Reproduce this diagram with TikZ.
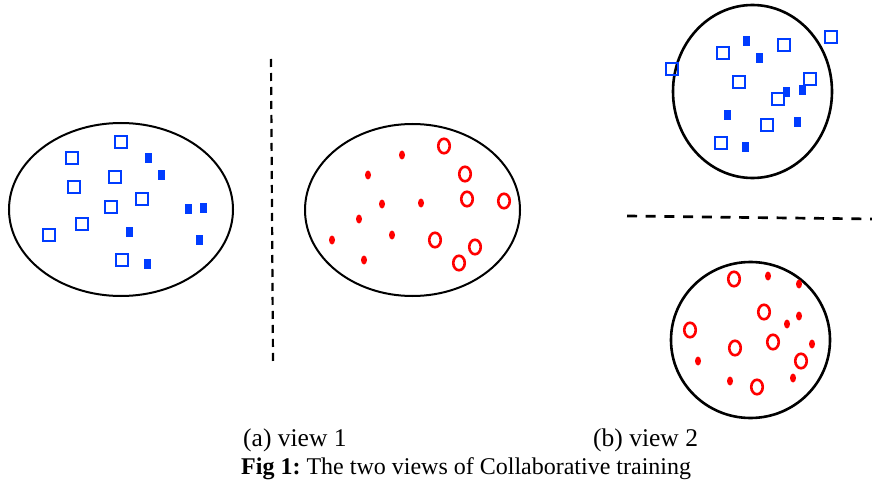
\documentclass[tikz,border=0pt]{standalone}
\usepackage{fontspec}
\setmainfont{Liberation Serif}
\frenchspacing
\usetikzlibrary{shapes.geometric}
\definecolor{myblue}{RGB}{0,60,255}
\definecolor{myred}{RGB}{255,0,0}
\tikzset{
  sq/.style={rectangle,draw=myblue,line width=2.7pt,minimum size=12pt,inner sep=0pt},
  bl/.style={rectangle,fill=myblue,minimum width=7pt,minimum height=10pt,inner sep=0pt},
  ring/.style={ellipse,draw=myred,line width=2.6pt,minimum width=11.5pt,minimum height=14.5pt,inner sep=0pt},
  dot/.style={ellipse,fill=myred,minimum width=6pt,minimum height=9pt,inner sep=0pt},
  hull/.style={draw=black,line width=2pt},
  sep/.style={draw=black,line width=2.2pt,dash pattern=on 8pt off 6pt},
  lab/.style={anchor=base west,inner sep=0pt,font=\fontsize{25.5}{28}\selectfont},
  caplab/.style={anchor=base west,inner sep=0pt,font=\fontsize{24}{28}\selectfont}
}
\begin{document}
\begin{tikzpicture}[x=1pt,y=-1pt]
\useasboundingbox (0,0) rectangle (872,481);
% hulls
\coordinate (e1) at (121,209.5);
\coordinate (e2) at (412.5,210);
\coordinate (e3) at (752.5,91.5);
\coordinate (e4) at (750.5,340);
\draw[hull] (e1) ellipse [x radius=112, y radius=86.5];
\draw[hull] (e2) ellipse [x radius=107.5, y radius=86];
\draw[hull,line width=2.6pt] (e3) ellipse [x radius=79.5, y radius=86.5];
\draw[hull,line width=2.6pt] (e4) ellipse [x radius=79.5, y radius=78];
% separators
\coordinate (v1) at (271,59);
\coordinate (v2) at (273,361);
\draw[sep] (v1) -- (v2);
\coordinate (h1) at (627,216);
\coordinate (h2) at (872,219);
\draw[sep,line width=2.7pt,dash pattern=on 10pt off 8.7pt] (h1) -- (h2);
% view 1, blue
\foreach \p [count=\i] in {(121,142),(72,158),(74,187),(115,177),(142,199),(111,207),(82,224),(49,235),(122,260)}
  \node[sq] (a\i) at \p {};
\foreach \p [count=\i] in {(148,158),(161,175),(188,209),(203,208),(129,232),(199,240),(147,264)}
  \node[bl] (b\i) at \p {};
% view 1, red
\foreach \p [count=\i] in {(444,146),(465,174),(467,199),(504,201),(435,240),(475,247),(459,263)}
  \node[ring] (c\i) at \p {};
\foreach \p [count=\i] in {(402,155),(368,175),(382,204),(421,203),(359,219),(392,235),(332,240),(364,260)}
  \node[dot] (d\i) at \p {};
% view 2, blue
\foreach \p [count=\i] in {(831,37),(672,69),(723,53),(784,45),(739,82),(810,79),(778,99),(767,125),(721,143)}
  \node[sq] (e\i) at \p {};
\foreach \p [count=\i] in {(746,41),(759,58),(786,92),(802,90),(727,115),(797,122),(745,147)}
  \node[bl] (f\i) at \p {};
% view 2, red
\foreach \p [count=\i] in {(734,279),(764,312),(690,330),(773,342),(735,348),(801,361),(757,387)}
  \node[ring] (g\i) at \p {};
\foreach \p [count=\i] in {(768,276),(799,284),(799,316),(787,324),(812,344),(698,361),(730,381),(793,378)}
  \node[dot] (h\i) at \p {};
% labels
\node[lab] (la) at (243,446) {(a) view 1};
\node[lab] (lb) at (593,446) {(b) view 2};
\node[caplab] (cap) at (241,474) {\textbf{Fig 1:} The two views of Collaborative training};
\end{tikzpicture}
\end{document}
